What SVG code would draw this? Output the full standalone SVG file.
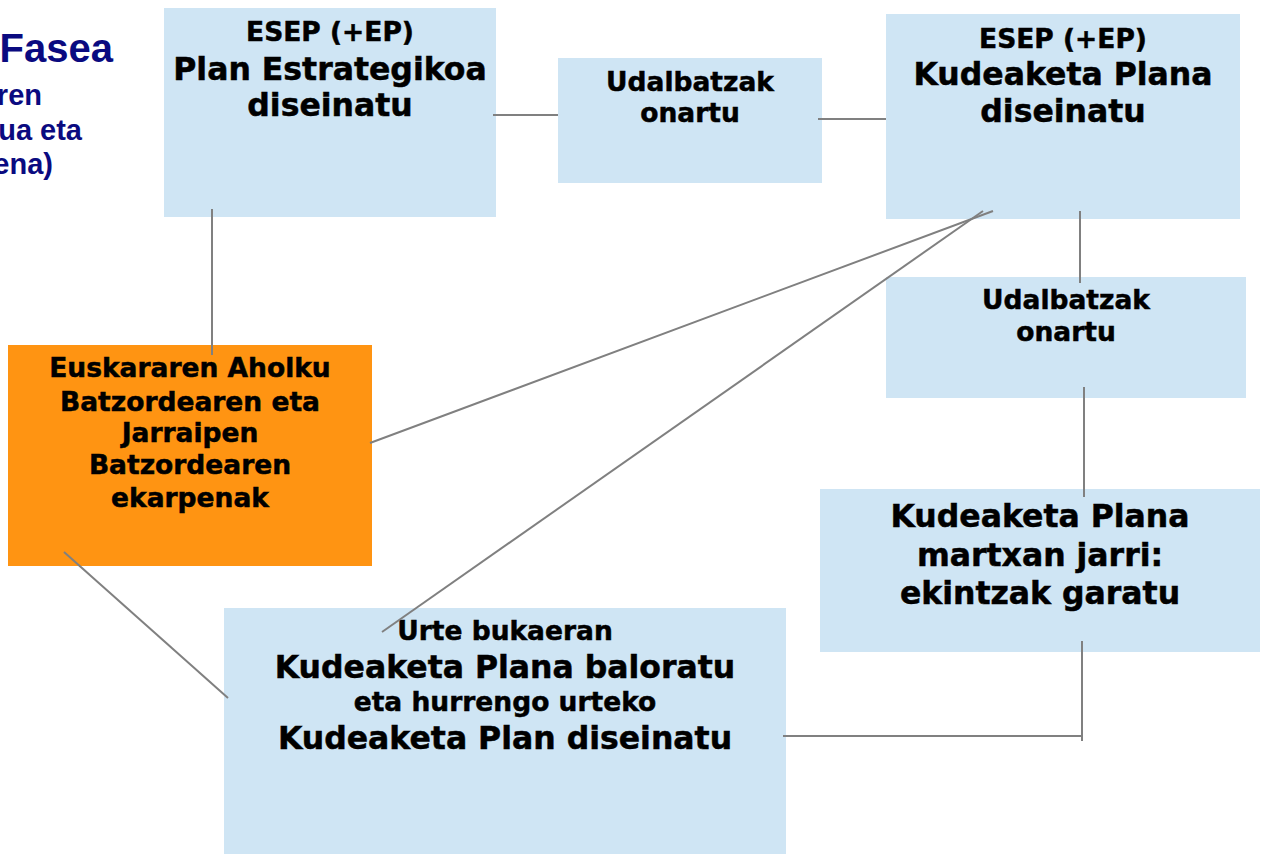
<svg xmlns="http://www.w3.org/2000/svg" width="1268" height="854" viewBox="0 0 1268 854">
<style>
.box{fill:#CFE5F4}
.org{fill:#FF9412}
.t{font-family:"DejaVu Sans",Verdana,sans-serif;font-weight:bold;fill:#000;stroke:#000;stroke-width:0.5;text-anchor:middle}
.s{font-size:26.5px}
.l{font-size:31.5px}
.nv{font-family:"Liberation Sans",Arial,sans-serif;font-weight:bold;fill:#0A0A80;text-anchor:end}
.c line{stroke:#808080;stroke-width:2;fill:none}
</style>
<rect width="1268" height="854" fill="#fff"/>
<g id="title">
<text class="nv" x="113" y="62" font-size="40">Fasea</text>
<text class="nv" x="42" y="105" font-size="29">ren</text>
<text class="nv" x="82" y="140" font-size="29">ua eta</text>
<text class="nv" x="53" y="174" font-size="29">ena)</text>
</g>
<g id="n1">
<rect class="box" x="164" y="8" width="332" height="209"/>
<text class="t s" x="330" y="41">ESEP (+EP)</text>
<text class="t l" x="330" y="80">Plan Estrategikoa</text>
<text class="t l" x="330" y="116">diseinatu</text>
</g>
<g id="n2">
<rect class="box" x="558" y="58" width="264" height="125"/>
<text class="t s" x="690" y="91">Udalbatzak</text>
<text class="t s" x="690" y="122">onartu</text>
</g>
<g id="n3">
<rect class="box" x="886" y="14" width="354" height="205"/>
<text class="t s" x="1063" y="48">ESEP (+EP)</text>
<text class="t l" x="1063" y="85">Kudeaketa Plana</text>
<text class="t l" x="1063" y="122">diseinatu</text>
</g>
<g id="n4">
<rect class="box" x="886" y="277" width="360" height="121"/>
<text class="t s" x="1066" y="309">Udalbatzak</text>
<text class="t s" x="1066" y="341">onartu</text>
</g>
<g id="n5">
<rect class="org" x="8" y="345" width="364" height="221"/>
<text class="t s" x="190" y="377">Euskararen Aholku</text>
<text class="t s" x="190" y="411">Batzordearen eta</text>
<text class="t s" x="190" y="442">Jarraipen</text>
<text class="t s" x="190" y="474">Batzordearen</text>
<text class="t s" x="190" y="507">ekarpenak</text>
</g>
<g id="n6">
<rect class="box" x="820" y="489" width="440" height="163"/>
<text class="t l" x="1040" y="527">Kudeaketa Plana</text>
<text class="t l" x="1040" y="566">martxan jarri:</text>
<text class="t l" x="1040" y="604">ekintzak garatu</text>
</g>
<g id="n7">
<rect class="box" x="224" y="608" width="562" height="246"/>
<text class="t s" x="505" y="640">Urte bukaeran</text>
<text class="t l" x="505" y="678">Kudeaketa Plana baloratu</text>
<text class="t s" x="505" y="711">eta hurrengo urteko</text>
<text class="t l" x="505" y="749">Kudeaketa Plan diseinatu</text>
</g>
<g id="connectors" class="c">
<line x1="493" y1="115" x2="558" y2="115"/>
<line x1="818" y1="119" x2="886" y2="119"/>
<line x1="212" y1="209" x2="212" y2="355"/>
<line x1="1080" y1="211" x2="1080" y2="283"/>
<line x1="1084" y1="387" x2="1084" y2="497"/>
<line x1="1082" y1="641" x2="1082" y2="741"/>
<line x1="783" y1="736" x2="1082" y2="736"/>
<line x1="370" y1="443" x2="993" y2="211"/>
<line x1="382" y1="632" x2="983" y2="211"/>
<line x1="64" y1="552" x2="228" y2="698"/>
</g>
</svg>
